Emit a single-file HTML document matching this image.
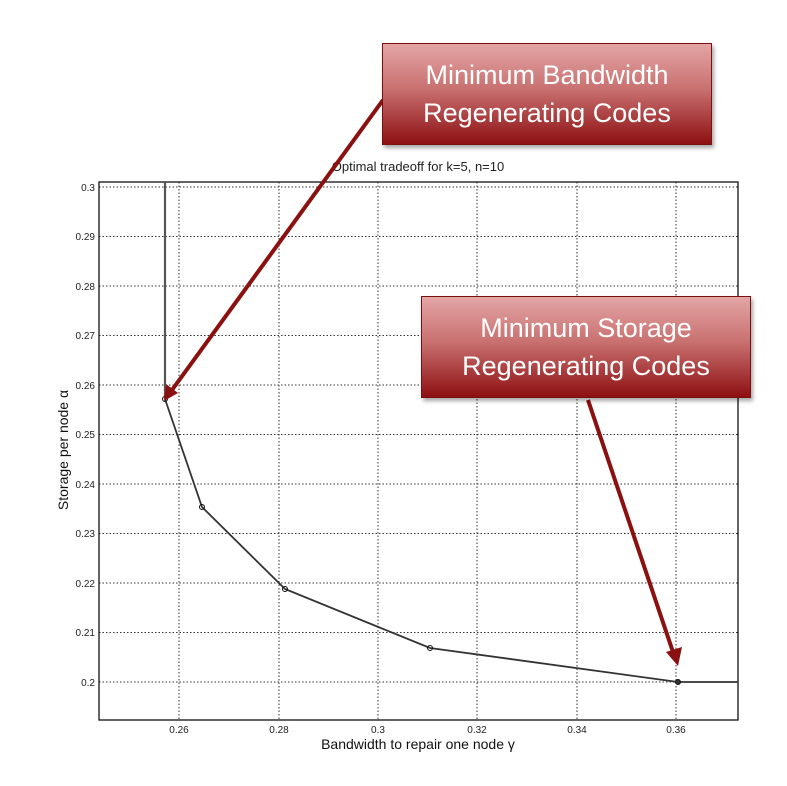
<!DOCTYPE html>
<html><head><meta charset="utf-8"><style>
html,body{margin:0;padding:0;background:#fff;}
body{width:787px;height:786px;position:relative;overflow:hidden;font-family:"Liberation Sans",sans-serif;}
.box{position:absolute;background:linear-gradient(#e3a5a5 0%,#c97070 45%,#8d1012 100%);border:1px solid #7a1010;box-shadow:2px 3px 4px rgba(0,0,0,0.35);color:#fff;text-align:center;font-size:27px;line-height:38px;box-sizing:border-box;padding-top:12px;}
</style></head><body>
<svg width="787" height="786" style="position:absolute;left:0;top:0" font-family="Liberation Sans, sans-serif">
<g stroke="#333" stroke-width="1" stroke-dasharray="1.5,2">
<line x1="179" y1="182" x2="179" y2="720"/><line x1="279" y1="182" x2="279" y2="720"/><line x1="378" y1="182" x2="378" y2="720"/><line x1="477" y1="182" x2="477" y2="720"/><line x1="577" y1="182" x2="577" y2="720"/><line x1="676" y1="182" x2="676" y2="720"/>
<line x1="99" y1="187" x2="738" y2="187"/><line x1="99" y1="236.5" x2="738" y2="236.5"/><line x1="99" y1="286" x2="738" y2="286"/><line x1="99" y1="335.5" x2="738" y2="335.5"/><line x1="99" y1="385" x2="738" y2="385"/><line x1="99" y1="434.5" x2="738" y2="434.5"/><line x1="99" y1="484" x2="738" y2="484"/><line x1="99" y1="533.5" x2="738" y2="533.5"/><line x1="99" y1="583" x2="738" y2="583"/><line x1="99" y1="632.5" x2="738" y2="632.5"/><line x1="99" y1="682" x2="738" y2="682"/>
</g>
<rect x="99" y="182" width="639" height="538" fill="none" stroke="#111" stroke-width="1.3"/>
<g font-size="10" fill="#222" text-anchor="end">
<text x="95" y="191">0.3</text><text x="95" y="240">0.29</text><text x="95" y="290">0.28</text><text x="95" y="339">0.27</text><text x="95" y="389">0.26</text><text x="95" y="438">0.25</text><text x="95" y="488">0.24</text><text x="95" y="537">0.23</text><text x="95" y="587">0.22</text><text x="95" y="636">0.21</text><text x="95" y="686">0.2</text>
</g>
<g font-size="10" fill="#222" text-anchor="middle">
<text x="179" y="733">0.26</text><text x="279" y="733">0.28</text><text x="378" y="733">0.3</text><text x="477" y="733">0.32</text><text x="577" y="733">0.34</text><text x="676" y="733">0.36</text>
</g>
<text x="418" y="171" font-size="13" text-anchor="middle" fill="#222">Optimal tradeoff for k=5, n=10</text>
<text x="418" y="749" font-size="14" text-anchor="middle" fill="#111">Bandwidth to repair one node γ</text>
<text transform="translate(68,450) rotate(-90)" font-size="14" text-anchor="middle" fill="#111">Storage per node α</text>
<line x1="165" y1="182" x2="165" y2="399" stroke="#555" stroke-width="2.2"/>
<polyline points="165,399 202,507 285,589 430,648 678,682 738,682" fill="none" stroke="#333" stroke-width="1.8"/>
<g fill="none" stroke="#111" stroke-width="1"><circle cx="165" cy="399" r="2.5"/><circle cx="202" cy="507" r="2.5"/><circle cx="285" cy="589" r="2.5"/><circle cx="430" cy="648" r="2.5"/><circle cx="678" cy="682" r="2.5" fill="#333"/></g>
<g stroke="#8b1010" stroke-width="4" fill="#8b1010">
<line x1="383" y1="100" x2="172" y2="390"/>
<line x1="588" y1="400" x2="674" y2="655"/>
</g>
<polygon points="164,401 166,384 178,393" fill="#8b1010"/>
<polygon points="678,666 666,652 682,647" fill="#8b1010"/>
</svg>
<div class="box" style="left:382px;top:43px;width:330px;height:102px;">Minimum Bandwidth<br>Regenerating Codes</div>
<div class="box" style="left:421px;top:296px;width:330px;height:102px;">Minimum Storage<br>Regenerating Codes</div>
</body></html>
